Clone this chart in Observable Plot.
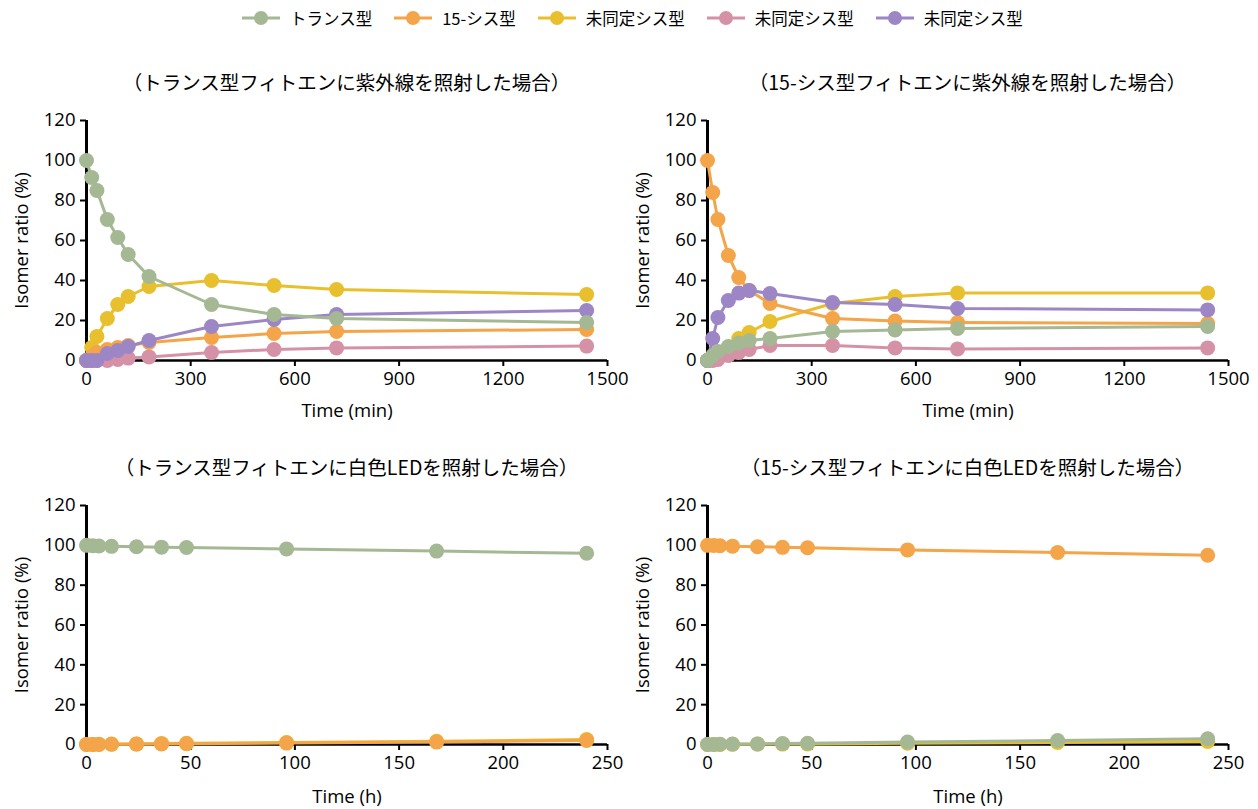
<!DOCTYPE html>
<html><head><meta charset="utf-8">
<script src="https://cdn.jsdelivr.net/npm/d3@7"></script>
<script src="https://cdn.jsdelivr.net/npm/@observablehq/plot@0.6"></script>
<style>
body{margin:0;background:#fff;font-family:"Open Sans","Noto Sans CJK JP",sans-serif;color:#000;}
#root{position:relative;width:1258px;height:809px;overflow:hidden;background:#fff;}
.panel{position:absolute;}
.title{position:absolute;width:620px;text-align:center;font-size:19.5px;line-height:24px;font-family:"Noto Sans CJK JP",sans-serif;white-space:nowrap;}
#legend{position:absolute;left:242px;top:7px;display:flex;align-items:center;font-size:16.5px;font-family:"Noto Sans CJK JP",sans-serif;line-height:22px;}
.item{display:flex;align-items:center;margin-right:22px;}
.item svg{margin-right:10px;}
</style></head><body><div id="root"><div id="legend"></div></div>
<script>
// ---- series ----
const seriesKeys = ["trans", "cis15", "unk1", "unk2", "unk3"];
const seriesLabels = ["トランス型", "15-シス型", "未同定シス型", "未同定シス型", "未同定シス型"];
const seriesColors = ["#a5b894", "#f4a449", "#e8bf2c", "#d592a7", "#9d86c5"];
const drawOrder = ["unk1", "unk2", "cis15", "unk3", "trans"];

// ---- titles / axes ----
const panelTitles = [
  "（トランス型フィトエンに紫外線を照射した場合）",
  "（15-シス型フィトエンに紫外線を照射した場合）",
  "（トランス型フィトエンに白色LEDを照射した場合）",
  "（15-シス型フィトエンに白色LEDを照射した場合）"
];
const yLabel = "Isomer ratio (%)";
const yTicks = [0, 20, 40, 60, 80, 100, 120];
const minTicks = [0, 300, 600, 900, 1200, 1500];
const hourTicks = [0, 50, 100, 150, 200, 250];

// ---- times ----
const timeMin = [0, 15, 30, 60, 90, 120, 180, 360, 540, 720, 1440];
const timeHour = [0, 3, 6, 12, 24, 36, 48, 96, 168, 240];

// ---- UV, trans-phytoene ----
const uvT_trans = [100, 91.5, 85, 70.5, 61.5, 53, 42, 28, 23, 21, 19];
const uvT_cis15 = [0, 2, 4, 5.5, 6.5, 7.5, 9, 11.5, 13.5, 14.5, 15.5];
const uvT_unk1  = [0, 6.5, 12, 21, 28, 32, 37, 40, 37.5, 35.5, 33];
const uvT_unk2  = [0, 0, 0, 0, 0.5, 1.2, 1.8, 4, 5.5, 6.3, 7.2];
const uvT_unk3  = [0, 0, 0, 3.5, 5, 7, 10, 17, 20.5, 23, 25];

// ---- UV, 15-cis-phytoene ----
const uvC_trans = [0, 2.5, 4.5, 7, 8.7, 10, 11, 14.5, 15.3, 16, 17];
const uvC_cis15 = [100, 84, 70.5, 52.5, 41.5, 35, 28.5, 21, 19.7, 19, 18.5];
const uvC_unk1  = [0, 1, 2, 5, 11, 14, 19.5, 28.5, 32, 33.8, 33.8];
const uvC_unk2  = [0, 0, 0.5, 2.5, 4, 5.5, 7.5, 7.5, 6.3, 5.8, 6.3];
const uvC_unk3  = [0, 11, 21.5, 30, 33.7, 35, 33.5, 29, 28, 26, 25.3];

// ---- white LED, trans-phytoene ----
const ledT_trans = [100, 99.8, 99.7, 99.5, 99.3, 99.1, 98.9, 98.2, 97.1, 96];
const ledT_cis15 = [0, 0, 0, 0.1, 0.2, 0.3, 0.4, 0.7, 1.2, 2.0];
const ledT_unk1  = [0, 0, 0.1, 0.2, 0.3, 0.5, 0.6, 1.0, 1.6, 2.5];

// ---- white LED, 15-cis-phytoene ----
const ledC_trans = [0, 0, 0.1, 0.2, 0.3, 0.5, 0.6, 1.2, 2.0, 2.9];
const ledC_cis15 = [100, 99.9, 99.8, 99.6, 99.3, 99.0, 98.8, 97.7, 96.4, 95.0];
const ledC_unk1  = [0, 0, 0, 0.1, 0.2, 0.2, 0.3, 0.6, 1.0, 1.5];

function rows(times, seriesMap) {
  const out = [];
  for (const [s, vals] of Object.entries(seriesMap)) {
    vals.forEach((v, i) => out.push({t: times[i], v, s}));
  }
  return out;
}

const panels = [
  {left: 0, top: 100, height: 320, labelOffset: 56, title: panelTitles[0], xDomain: [0, 1500], xTicks: minTicks, xLabel: "Time (min)",
   data: rows(timeMin, {trans: uvT_trans, cis15: uvT_cis15, unk1: uvT_unk1, unk2: uvT_unk2, unk3: uvT_unk3})},
  {left: 621, top: 100, height: 320, labelOffset: 56, title: panelTitles[1], xDomain: [0, 1500], xTicks: minTicks, xLabel: "Time (min)",
   data: rows(timeMin, {trans: uvC_trans, cis15: uvC_cis15, unk1: uvC_unk1, unk2: uvC_unk2, unk3: uvC_unk3})},
  {left: 0, top: 485, height: 319, labelOffset: 58, title: panelTitles[2], xDomain: [0, 250], xTicks: hourTicks, xLabel: "Time (h)",
   data: rows(timeHour, {trans: ledT_trans, cis15: ledT_cis15, unk1: ledT_unk1})},
  {left: 621, top: 485, height: 319, labelOffset: 58, title: panelTitles[3], xDomain: [0, 250], xTicks: hourTicks, xLabel: "Time (h)",
   data: rows(timeHour, {trans: ledC_trans, cis15: ledC_cis15, unk1: ledC_unk1})}
];

const root = document.getElementById("root");

for (const p of panels) {
  const seriesMarks = [];
  for (const s of drawOrder) {
    const d = p.data.filter(r => r.s === s);
    if (!d.length) continue;
    seriesMarks.push(Plot.line(d, {x: "t", y: "v", stroke: "s", strokeWidth: 3}));
    seriesMarks.push(Plot.dot(d, {x: "t", y: "v", fill: "s", r: 7.5}));
  }
  const chart = Plot.plot({
    width: 629,
    height: p.height,
    marginLeft: 86,
    marginRight: 22,
    marginTop: 20,
    marginBottom: 60,
    style: {fontSize: "18.5px", fontFamily: "'Open Sans','Noto Sans CJK JP',sans-serif", color: "#000", background: "transparent", overflow: "visible"},
    x: {domain: p.xDomain},
    y: {domain: [0, 120]},
    color: {domain: seriesKeys, range: seriesColors},
    marks: [
      Plot.axisY({ticks: yTicks, tickFormat: d => String(d), tickSize: 6, tickPadding: 5, strokeWidth: 2, label: yLabel, labelAnchor: "center", labelArrow: "none", labelOffset: 72}),
      Plot.axisX({ticks: p.xTicks, tickFormat: d => String(d), tickSize: 6, tickPadding: 5, strokeWidth: 2, label: p.xLabel, labelAnchor: "center", labelArrow: "none", labelOffset: p.labelOffset}),
      Plot.ruleX([0], {stroke: "#000", strokeWidth: 3}),
      Plot.ruleY([0], {stroke: "#000", strokeWidth: 2.5}),
      ...seriesMarks
    ]
  });
  chart.classList.add("panel");
  chart.style.left = p.left + "px";
  chart.style.top = p.top + "px";
  root.appendChild(chart);

  const t = document.createElement("div");
  t.className = "title";
  t.textContent = p.title;
  t.style.left = (p.left + 86 + (629 - 86 - 22) / 2 - 310) + "px";
  t.style.top = (p.top - 30) + "px";
  root.appendChild(t);
}

// legend
const legend = document.getElementById("legend");
seriesKeys.forEach((k, i) => {
  const item = document.createElement("div");
  item.className = "item";
  item.innerHTML = `<svg width="38" height="16"><line x1="0" y1="8" x2="38" y2="8" stroke="${seriesColors[i]}" stroke-width="3"/><circle cx="19" cy="8" r="7" fill="${seriesColors[i]}"/></svg><span>${seriesLabels[i]}</span>`;
  legend.appendChild(item);
});
</script></body></html>
